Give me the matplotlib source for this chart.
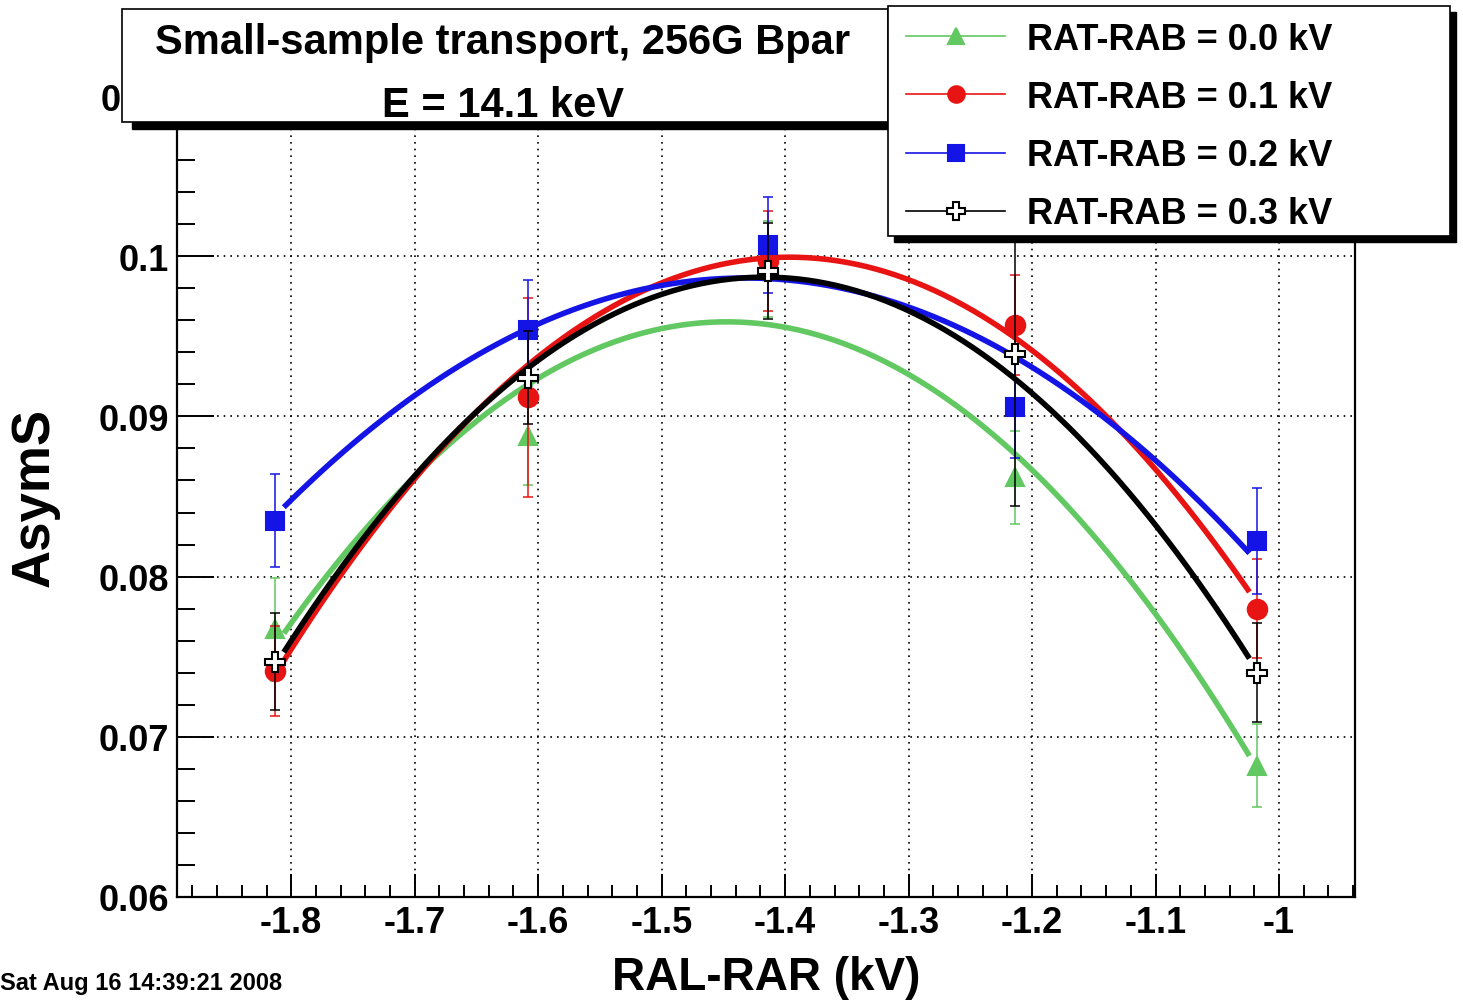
import numpy as np
import matplotlib.pyplot as plt
from matplotlib.patches import Rectangle
from matplotlib.lines import Line2D

plt.rcParams['font.family'] = ['Liberation Sans', 'DejaVu Sans']
plt.rcParams['font.weight'] = 'bold'

# RAL-RAR settings (kV) and measured asymmetries for each RAT-RAB setting
ral_rar = [-1.813, -1.608, -1.414, -1.214, -1.018]
series_labels = ['RAT-RAB = 0.0 kV', 'RAT-RAB = 0.1 kV',
                 'RAT-RAB = 0.2 kV', 'RAT-RAB = 0.3 kV']
asym_00 = [0.0767, 0.0888, 0.0992, 0.0862, 0.0682]
err_00 = [0.0032, 0.0031, 0.0030, 0.0029, 0.0026]
asym_01 = [0.0741, 0.0912, 0.0997, 0.0957, 0.0780]
err_01 = [0.0028, 0.0062, 0.0031, 0.0031, 0.0031]
asym_02 = [0.0835, 0.0954, 0.1007, 0.0906, 0.0822]
err_02 = [0.0029, 0.0031, 0.0030, 0.0032, 0.0033]
asym_03 = [0.0747, 0.0924, 0.0991, 0.0939, 0.0740]
err_03 = [0.0030, 0.0029, 0.0030, 0.0095, 0.0031]
fit_range = (-1.806, -1.024)

x_ticks = [-1.8, -1.7, -1.6, -1.5, -1.4, -1.3, -1.2, -1.1, -1.0]
x_tick_labels = ['-1.8', '-1.7', '-1.6', '-1.5', '-1.4', '-1.3', '-1.2', '-1.1', '-1']
y_ticks = [0.06, 0.07, 0.08, 0.09, 0.10, 0.11]
y_tick_labels = ['0.06', '0.07', '0.08', '0.09', '0.1', '0.11']

title_lines = ['Small-sample transport, 256G Bpar', 'E = 14.1 keV']
date_text = 'Sat Aug 16 14:39:21 2008'

series = [
    (asym_00, err_00, '#62c862', '^', 13, 'none'),
    (asym_01, err_01, '#e81414', 'o', 14, 'none'),
    (asym_02, err_02, '#1414e6', 's', 13, 'none'),
    (asym_03, err_03, 'black', 'P', 15, 'white'),
]

W, H = 1463, 1004
fig = plt.figure(figsize=(W / 100, H / 100), dpi=100)
ax = fig.add_axes([177 / W, 1 - 898 / H, (1355 - 177) / W, (898 - 97) / H])

x = np.array(ral_rar)
handles = []
for i, (y, e, col, mk, ms, face) in enumerate(series):
    y = np.array(y)
    e = np.array(e)
    z = 3 + i
    mfc = col if face == 'none' else face
    ax.errorbar(x, y, yerr=e, fmt='none', ecolor=col, elinewidth=1.1,
                capsize=3.6, capthick=1.1, zorder=z)
    ax.plot(x, y, ls='none', marker=mk, ms=ms, color=col, mfc=mfc,
            mec=col, mew=1.5, zorder=z + 0.2)
    # second order polynomial fit, weighted by errors
    coef = np.polyfit(x, y, 2, w=1 / e)
    xf = np.linspace(fit_range[0], fit_range[1], 200)
    ax.plot(xf, np.polyval(coef, xf), color=col, lw=4, zorder=z + 0.1,
            solid_capstyle='butt')
    handles.append(Line2D([], [], color=col, lw=1.2, marker=mk,
                          ms=ms * 0.85, mfc=mfc, mec=col, mew=1.5))

dx = x.max() - x.min()
ax.set_xlim(x.min() - 0.1 * dx, x.max() + 0.1 * dx)
ax.set_ylim(0.06, 0.11)
ax.set_xticks(x_ticks)
ax.set_xticklabels(x_tick_labels)
ax.set_yticks(y_ticks)
ax.set_yticklabels(y_tick_labels)
ax.set_xticks(np.arange(-1.88, -0.93, 0.02), minor=True)
ax.set_yticks(np.arange(0.06, 0.1101, 0.002), minor=True)
ax.tick_params(which='both', direction='in', top=False, right=False,
               width=1.4, labelsize=26, pad=6)
ax.tick_params(axis='x', which='major', length=16.5)
ax.tick_params(axis='x', which='minor', length=8.5)
ax.tick_params(axis='y', which='major', length=26.5)
ax.tick_params(axis='y', which='minor', length=13)
ax.grid(which='major', ls=(0, (1, 3)), color='black', lw=1.2)
for sp in ax.spines.values():
    sp.set_linewidth(1.6)

ax.set_xlabel('RAL-RAR (kV)', fontsize=33, fontweight='bold')
ax.set_ylabel('AsymS', fontsize=38, fontweight='bold')
ax.xaxis.set_label_coords(0.5, -0.072)
ax.yaxis.set_label_coords(-0.100, 0.5)

# boxes with a black drop shadow, like the ROOT panes
def boxed(x0, y0, x1, y1, sx, sy):
    fig.add_artist(Rectangle(((x0 + sx) / W, 1 - (y1 + sy) / H),
                             (x1 - x0) / W, (y1 - y0) / H,
                             transform=fig.transFigure, facecolor='black',
                             edgecolor='black', zorder=10))
    fig.add_artist(Rectangle((x0 / W, 1 - y1 / H), (x1 - x0) / W, (y1 - y0) / H,
                             transform=fig.transFigure, facecolor='white',
                             edgecolor='black', lw=1.2, zorder=10.5))

boxed(122, 10, 888, 123, 10, 7)
fig.text(503 / W, 1 - 54 / H, title_lines[0], ha='center', va='baseline',
         fontsize=30, fontweight='bold', zorder=11)
fig.text(503 / W, 1 - 117 / H, title_lines[1], ha='center', va='baseline',
         fontsize=30, fontweight='bold', zorder=11)

boxed(888, 7, 1450, 237, 6, 6)
leg = fig.legend(handles, series_labels, loc='upper left',
                 bbox_to_anchor=(906 / W, 1 - 23 / H), frameon=False,
                 borderpad=0, borderaxespad=0,
                 handlelength=2.75, handletextpad=0.6, labelspacing=0.64,
                 prop={'weight': 'bold', 'size': 26})
leg.set_zorder(12)

fig.text(0.0, 1 - 990 / H, date_text, ha='left', va='baseline',
         fontsize=17, fontweight='bold')

fig.savefig('out.png', dpi=100)
